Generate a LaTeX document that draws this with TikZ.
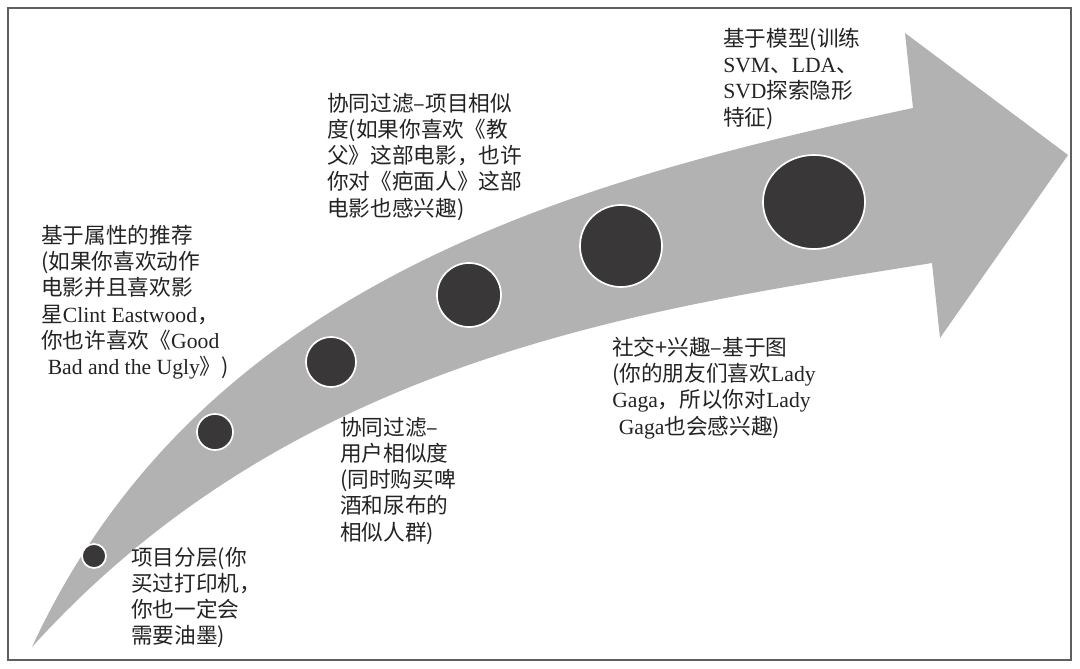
\documentclass[tikz,border=0pt]{standalone}
\usepackage{fontspec}
\setmainfont{Noto Sans CJK SC}
\newfontfamily\enfont{Liberation Serif}
\usepackage{tikz}
\usetikzlibrary{shapes.geometric, positioning}

\definecolor{arrowgray}{RGB}{178,178,178}
\definecolor{dotgray}{RGB}{58,55,57}
\definecolor{framegray}{RGB}{95,95,95}
\definecolor{textdark}{RGB}{35,35,35}

\begin{document}
\begin{tikzpicture}[
        x=0.025cm, y=-0.025cm,
        note/.style={anchor=north west, inner sep=0pt, align=left, text=textdark, font=\fontsize{15.4pt}{18.6pt}\selectfont},
        dot/.style={ellipse, draw=white, line width=1.2pt, fill=dotgray, inner sep=0pt}
    ]
        \useasboundingbox (0,0) rectangle (1080,669);
        \fill[white] (0,0) rectangle (1080,669);
        \draw[framegray, line width=1.4pt] (8,8) rectangle (1071,660);
        % curved arrow
        \fill[arrowgray] (32,647) .. controls (200,284) and (567,182) .. (913,108)
            -- (905,33) -- (1068,155) -- (940,338) -- (932,263)
            .. controls (654,308) and (297,354) .. (32,647) -- cycle;
        % dots along the arrow
        \foreach \cx/\cy/\rx/\ry [count=\i] in {94/556/12/12, 215/432/18/18, 331/362/25/25, 469/295/32/32, 621/246/41/41, 814/202/51/47}
            \node[dot, minimum width=\rx*0.05cm, minimum height=\ry*0.05cm] (dot\i) at (\cx,\cy) {};
        % labels
        \node[note] (attrtext) at (41,225) {基于属性的推荐\\(如果你喜欢动作\\电影并且喜欢影\\星{\enfont Clint Eastwood}，\\你也许喜欢《{\enfont Good}\\\hspace{0.3em}{\enfont Bad and the Ugly}》)};
        \node[note] (itemtext) at (327,93) {协同过滤–项目相似\\度(如果你喜欢《教\\父》这部电影，也许\\你对《疤面人》这部\\电影也感兴趣)};
        \node[note] (modeltext) at (723,28) {基于模型(训练\\{\enfont SVM}、{\enfont LDA}、\\{\enfont SVD}探索隐形\\特征)};
        \node[note] (socialtext) at (612,337) {社交+兴趣–基于图\\(你的朋友们喜欢{\enfont Lady}\\{\enfont Gaga}，所以你对{\enfont Lady}\\\hspace{0.3em}{\enfont Gaga}也会感兴趣)};
        \node[note] (usertext) at (340,417) {协同过滤–\\用户相似度\\(同时购买啤\\酒和尿布的\\相似人群)};
        \node[note] (layertext) at (131,547) {项目分层(你\\买过打印机，\\你也一定会\\需要油墨)};
    \end{tikzpicture}
\end{document}
